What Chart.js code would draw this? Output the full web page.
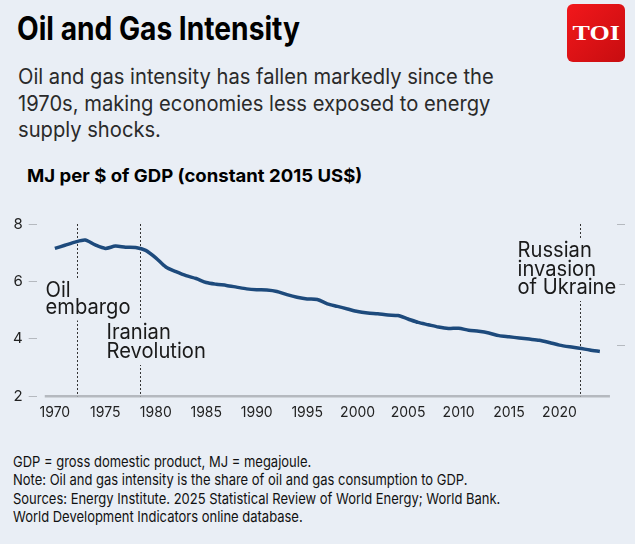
<!DOCTYPE html>
<html>
<head>
<meta charset="utf-8">
<script src="https://cdn.jsdelivr.net/npm/chart.js@4.4.1/dist/chart.umd.min.js"></script>
<style>
  body { margin: 0; background: #e9eef5; }
  #page { position: relative; width: 635px; height: 544px; overflow: hidden; background: #e9eef5; font-family: Inter, sans-serif; color: #1a1a1a; }
  .txt { position: absolute; white-space: nowrap; transform-origin: 0 0; }
  #title { left: 17px; top: 10px; font-size: 32px; line-height: 38px; font-weight: 700; color: #000; transform: scaleX(0.88); }
  #subtitle { left: 18px; top: 64px; font-size: 21px; line-height: 26.7px; color: #2a2a2a; transform: scaleX(0.96); }
  #ytitle { left: 27px; top: 166px; font-size: 18px; line-height: 20px; font-weight: 700; color: #000; transform: scaleX(1.03); }
  #notes { left: 13px; top: 453px; font-size: 15px; line-height: 18.4px; color: #111; transform: scaleX(0.865); }
  #logo { position: absolute; left: 567px; top: 4px; width: 58px; height: 58px; border-radius: 6px;
          background: linear-gradient(135deg, #f2171b, #c70d10); color: #fff; text-align: center;
          font-family: "Liberation Serif", "DejaVu Serif", serif; font-weight: 700; font-size: 20px; line-height: 58px; }
  #logo span { display: inline-block; transform: scaleX(1.3); }
  #chartBox { position: absolute; left: 0; top: 200px; width: 635px; height: 230px; }
</style>
</head>
<body>
<div id="page">
  <div id="title" class="txt">Oil and Gas Intensity</div>
  <div id="logo"><span>TOI</span></div>
  <div id="subtitle" class="txt">Oil and gas intensity has fallen markedly since the<br>1970s, making economies less exposed to energy<br>supply shocks.</div>
  <div id="ytitle" class="txt">MJ per $ of GDP (constant 2015 US$)</div>
  <div id="chartBox"><canvas id="chart" width="635" height="230"></canvas></div>
  <div id="notes" class="txt">GDP = gross domestic product, MJ = megajoule.<br>Note: Oil and gas intensity is the share of oil and gas consumption to GDP.<br>Sources: Energy Institute. 2025 Statistical Review of World Energy; World Bank.<br>World Development Indicators online database.</div>
</div>
<script>
// Tahun dan intensitas minyak & gas (MJ per $ PDB)
const years = [1970, 1971, 1972, 1973, 1974, 1975, 1976, 1977, 1978, 1979,
               1980, 1981, 1982, 1983, 1984, 1985, 1986, 1987, 1988, 1989,
               1990, 1991, 1992, 1993, 1994, 1995, 1996, 1997, 1998, 1999,
               2000, 2001, 2002, 2003, 2004, 2005, 2006, 2007, 2008, 2009,
               2010, 2011, 2012, 2013, 2014, 2015, 2016, 2017, 2018, 2019,
               2020, 2021, 2022, 2023, 2024];
const intensity = [7.15, 7.26, 7.37, 7.44, 7.27, 7.15, 7.23, 7.19, 7.18, 7.08,
                   6.82, 6.50, 6.34, 6.20, 6.10, 5.96, 5.90, 5.86, 5.80, 5.74,
                   5.71, 5.70, 5.65, 5.54, 5.45, 5.39, 5.37, 5.22, 5.13, 5.04,
                   4.95, 4.90, 4.87, 4.83, 4.81, 4.69, 4.57, 4.49, 4.41, 4.36,
                   4.37, 4.30, 4.26, 4.20, 4.11, 4.07, 4.03, 3.99, 3.95, 3.87,
                   3.78, 3.72, 3.67, 3.61, 3.56];

// Peristiwa penting
const eventYears = [1972.2, 1978.4, 2022];
const eventLabels = [['Oil', 'embargo'], ['Iranian', 'Revolution'], ['Russian', 'invasion', 'of Ukraine']];

// Label sumbu
const xTickValues = [1970, 1975, 1980, 1985, 1990, 1995, 2000, 2005, 2010, 2015, 2020];
const yTickValues = [2, 4, 6, 8];

const BG = '#e9eef5';

// posisi teks peristiwa (relatif ke garis & atas area grafik)
const labelLayout = [
    { dx: -32, base: 73, lh: 16.5 },
    { dx: -34, base: 115, lh: 19 },
    { dx: -63, base: 33, lh: 18.5 }
];

const eventPlugin = {
    id: 'eventPlugin',
    beforeDatasetsDraw(chart) {
        const { ctx, chartArea, scales: { x, y } } = chart;
        const top = y.getPixelForValue(8);
        const bottom = y.getPixelForValue(2);
        ctx.save();
        // garis dasar
        ctx.strokeStyle = '#b5b9bf';
        ctx.lineWidth = 2.5;
        ctx.beginPath();
        ctx.moveTo(x.getPixelForValue(1969), bottom);
        ctx.lineTo(x.getPixelForValue(2025), bottom);
        ctx.stroke();

        eventYears.forEach((yr, i) => {
            const px = Math.round(x.getPixelForValue(yr)) + 0.5;
            ctx.setLineDash([2, 2]);
            ctx.strokeStyle = '#333';
            ctx.lineWidth = 1;
            ctx.beginPath();
            ctx.moveTo(px, top);
            ctx.lineTo(px, bottom);
            ctx.stroke();
            ctx.setLineDash([]);

            const lay = labelLayout[i];
            const lines = eventLabels[i];
            const sx = 0.96;
            ctx.font = '21px Inter';
            const w = Math.max(...lines.map(t => ctx.measureText(t).width)) * sx;
            const left = px + lay.dx;
            const base = chartArea.top + lay.base;
            ctx.fillStyle = BG;
            ctx.fillRect(left - 3, base - 19, w + 6, (lines.length - 1) * lay.lh + 26);
            ctx.fillStyle = '#1a1a1a';
            lines.forEach((t, j) => {
                ctx.save();
                ctx.translate(left, base + j * lay.lh);
                ctx.scale(sx, 1);
                ctx.fillText(t, 0, 0);
                ctx.restore();
            });
        });
        ctx.restore();
    }
};

const ctx = document.getElementById('chart').getContext('2d');
const chart = new Chart(ctx, {
    type: 'line',
    data: {
        datasets: [{
            label: 'Oil and gas intensity',
            data: years.map((yr, i) => ({ x: yr, y: intensity[i] })),
            borderColor: '#1d4a7c',
            borderWidth: 3.5,
            pointRadius: 0,
            tension: 0.25,
            fill: false
        }]
    },
    options: {
        responsive: false,
        animation: false,
        devicePixelRatio: 1,
        layout: { padding: { top: 24, left: 7, right: 10, bottom: 1 } },
        plugins: { legend: { display: false }, tooltip: { enabled: false } },
        scales: {
            x: {
                type: 'linear',
                min: 1968.2,
                max: 2025.7,
                afterBuildTicks: s => { s.ticks = xTickValues.map(v => ({ value: v })); },
                grid: { display: false, drawTicks: false },
                border: { display: false },
                ticks: {
                    font: { family: 'Inter', size: 14 },
                    color: '#222',
                    padding: 8,
                    maxRotation: 0,
                    autoSkip: false,
                    callback: v => String(v)
                }
            },
            y: {
                min: 2,
                max: 8,
                afterBuildTicks: s => { s.ticks = yTickValues.map(v => ({ value: v })); },
                grid: { drawOnChartArea: false, drawTicks: true, tickLength: 8, tickColor: '#b5b9bf' },
                border: { display: false },
                ticks: { font: { family: 'Inter', size: 15 }, color: '#222', padding: 6, callback: v => String(v) }
            },
            y1: {
                position: 'right',
                min: 2.32,
                max: 8,
                afterBuildTicks: s => { s.ticks = yTickValues.filter(v => v > 2.32).map(v => ({ value: v })); },
                grid: { drawOnChartArea: false, drawTicks: true, tickLength: 8, tickColor: '#b5b9bf' },
                border: { display: false },
                ticks: { display: false }
            }
        }
    },
    plugins: [eventPlugin]
});
</script>
</body>
</html>
